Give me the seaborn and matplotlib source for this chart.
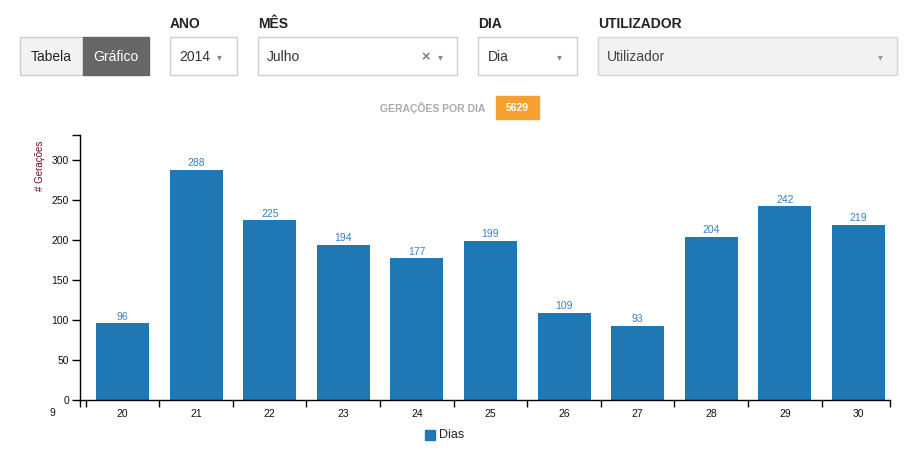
import matplotlib
matplotlib.use("Agg")
import matplotlib.pyplot as plt
from matplotlib.patches import Rectangle
import seaborn as sns
import pandas as pd

# ---- data ----
days = ["20", "21", "22", "23", "24", "25", "26", "27", "28", "29", "30"]
generations = [96, 288, 225, 194, 177, 199, 109, 93, 204, 242, 219]
y_ticks = [0, 50, 100, 150, 200, 250, 300]
total_label = "5629"
series_name = "Dias"

W, H = 920, 454
sns.set_theme(style="white")
plt.rcParams["font.family"] = ["Liberation Sans", "DejaVu Sans"]

fig = plt.figure(figsize=(W / 100, H / 100), dpi=100)
fig.patch.set_facecolor("white")


def fx(px):
    return px / W


def fy(py):
    return 1 - py / H


def box(x0, y0, x1, y1, fc, ec):
    fig.add_artist(Rectangle((fx(x0), fy(y1)), fx(x1) - fx(x0), fy(y0) - fy(y1),
                             transform=fig.transFigure, facecolor=fc,
                             edgecolor=ec, linewidth=1))


def t(px, py, s, **kw):
    kw.setdefault("va", "center")
    fig.text(fx(px), fy(py), s, **kw)


# ---- UI controls ----
box(20, 37, 83, 75, "#f2f2f2", "#cccccc")
box(83, 37, 149, 75, "#666666", "#666666")
t(51.5, 57, "Tabela", ha="center", fontsize=10, color="#222222")
t(116, 57, "Gráfico", ha="center", fontsize=10, color="white")

for x, s in [(170, "ANO"), (258, "MÊS"), (478, "DIA"), (598, "UTILIZADOR")]:
    t(x, 28, s, ha="left", va="baseline", fontsize=10, fontweight="bold", color="#222222")

box(170, 37, 237, 75, "white", "#cccccc")
t(179, 57, "2014", ha="left", fontsize=10, color="#333333")
t(219, 57, "▾", ha="center", fontsize=7, color="#888888", family="DejaVu Sans")

box(258, 37, 457, 75, "white", "#cccccc")
t(267, 57, "Julho", ha="left", fontsize=10, color="#333333")
t(426, 57, "×", ha="center", fontsize=9, fontweight="bold", color="#777777", family="DejaVu Sans")
t(440, 57, "▾", ha="center", fontsize=7, color="#888888", family="DejaVu Sans")

box(478, 37, 577, 75, "white", "#cccccc")
t(488, 57, "Dia", ha="left", fontsize=10, color="#333333")
t(559, 57, "▾", ha="center", fontsize=7, color="#888888", family="DejaVu Sans")

box(598, 37, 897, 75, "#f2f2f2", "#d5d5d5")
t(607, 57, "Utilizador", ha="left", fontsize=10, color="#444444")
t(880, 57, "▾", ha="center", fontsize=7, color="#999999", family="DejaVu Sans")

t(485, 108, "GERAÇÕES POR DIA", ha="right", fontsize=7.5, fontweight="bold", color="#aaaaaa")
box(496, 96, 539, 119, "#f5a030", "#f5a030")
t(517.5, 108, total_label, ha="center", fontsize=7.5, fontweight="bold", color="white")

# ---- chart ----
ax_l, ax_r, ax_t, ax_b = 80, 890, 135, 400
ax = fig.add_axes([fx(ax_l), fy(ax_b), fx(ax_r) - fx(ax_l), (ax_b - ax_t) / H])
ax.set_facecolor("white")

df = pd.DataFrame({"dia": days, "n": generations})
bar_color = "#1f77b4"
sns.barplot(data=df, x="dia", y="n", color=bar_color, width=0.72,
            saturation=1, ax=ax, order=days, linewidth=0, edgecolor="none")
ax.bar_label(ax.containers[0], padding=1, fontsize=7.5, color="#3a80c2")

unit = 73.6
x_left = (ax_l - 122.5) / unit
x_right = (ax_r - 122.5) / unit
ax.set_xlim(x_left, x_right)
ytop = 331.4
ax.set_ylim(0, ytop)

for s in ["top", "right"]:
    ax.spines[s].set_visible(False)
for s in ["left", "bottom"]:
    ax.spines[s].set_color("black")
    ax.spines[s].set_linewidth(1)

ax.set_yticks(y_ticks + [ytop])
ax.set_yticklabels([str(v) for v in y_ticks] + [""])
ax.tick_params(axis="y", length=6, width=1, color="black", pad=2,
               labelsize=7.5, labelcolor="#111111", left=True, direction="out")

bounds = [x_left] + [i - 0.5 for i in range(len(days))] + [x_right]
ax.set_xticks(bounds)
ax.set_xticklabels([""] * len(bounds))
ax.set_xticks(range(len(days)), minor=True)
ax.set_xticklabels(days, minor=True)
ax.tick_params(axis="x", which="major", length=5, width=1, color="black",
               bottom=True, direction="out")
ax.tick_params(axis="x", which="minor", length=0, pad=6.5, labelsize=7.5,
               labelcolor="#111111", bottom=True)
ax.set_xlabel("")
ax.set_ylabel("")
ax.grid(False)

t(52, 413, "9", ha="center", fontsize=7.5, color="#111111")
t(40, 166, "# Gerações", ha="center", fontsize=7, color="#6b0d1d", rotation=90)

# legend
box(425.5, 430, 435, 440, bar_color, bar_color)
t(439.5, 435, series_name, ha="left", fontsize=9, color="#222222")

fig.savefig("out.png", dpi=100, facecolor="white")
